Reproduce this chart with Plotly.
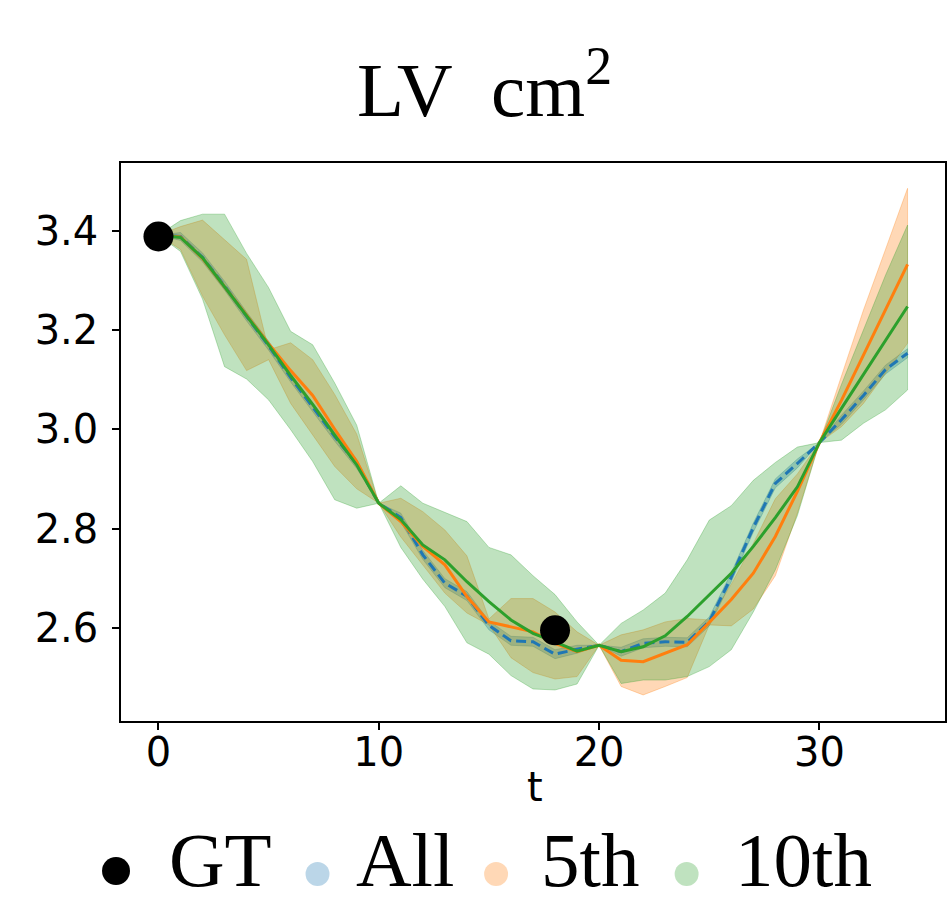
import plotly.graph_objects as go

# ---------------- data ----------------
t = list(range(35))

all_mean = [3.391, 3.388, 3.346, 3.289, 3.227, 3.168, 3.104, 3.045, 2.985, 2.930,
            2.851, 2.822, 2.747, 2.690, 2.664, 2.605, 2.574, 2.572, 2.547, 2.557,
            2.565, 2.552, 2.569, 2.572, 2.571, 2.613, 2.702, 2.802, 2.891, 2.931,
            2.973, 3.019, 3.068, 3.120, 3.153]
all_hi = [3.391, 3.396, 3.355, 3.298, 3.236, 3.177, 3.113, 3.054, 2.994, 2.939,
          2.851, 2.831, 2.756, 2.699, 2.673, 2.614, 2.583, 2.581, 2.556, 2.565,
          2.565, 2.561, 2.578, 2.581, 2.580, 2.622, 2.711, 2.811, 2.900, 2.940,
          2.973, 3.028, 3.077, 3.129, 3.162]
all_lo = [3.391, 3.380, 3.337, 3.280, 3.218, 3.159, 3.095, 3.036, 2.976, 2.921,
          2.851, 2.813, 2.738, 2.681, 2.655, 2.596, 2.565, 2.563, 2.538, 2.549,
          2.565, 2.543, 2.560, 2.563, 2.562, 2.604, 2.693, 2.793, 2.882, 2.922,
          2.973, 3.010, 3.059, 3.111, 3.144]

fifth_mean = [3.391, 3.387, 3.344, 3.287, 3.228, 3.172, 3.118, 3.068, 3.000, 2.935,
              2.851, 2.814, 2.764, 2.727, 2.663, 2.612, 2.602, 2.592, 2.569, 2.552,
              2.565, 2.535, 2.532, 2.549, 2.566, 2.611, 2.657, 2.710, 2.784, 2.875,
              2.973, 3.058, 3.150, 3.242, 3.332]
fifth_hi = [3.391, 3.408, 3.421, 3.381, 3.342, 3.160, 3.174, 3.140, 3.070, 2.990,
            2.851, 2.861, 2.834, 2.797, 2.745, 2.618, 2.659, 2.659, 2.632, 2.592,
            2.565, 2.586, 2.596, 2.612, 2.619, 2.616, 2.688, 2.770, 2.860, 2.910,
            2.973, 3.107, 3.240, 3.362, 3.485]
fifth_lo = [3.391, 3.362, 3.268, 3.190, 3.118, 3.140, 3.052, 2.988, 2.925, 2.880,
            2.851, 2.783, 2.727, 2.670, 2.630, 2.606, 2.540, 2.510, 2.497, 2.502,
            2.565, 2.482, 2.465, 2.482, 2.500, 2.606, 2.604, 2.638, 2.705, 2.831,
            2.973, 3.005, 3.052, 3.113, 3.173]

tenth_mean = [3.391, 3.386, 3.345, 3.287, 3.228, 3.170, 3.108, 3.050, 2.988, 2.928,
              2.851, 2.818, 2.767, 2.737, 2.693, 2.653, 2.616, 2.589, 2.572, 2.553,
              2.565, 2.552, 2.562, 2.584, 2.623, 2.666, 2.710, 2.764, 2.822, 2.884,
              2.973, 3.042, 3.110, 3.179, 3.247]
tenth_hi = [3.391, 3.420, 3.433, 3.433, 3.354, 3.285, 3.197, 3.170, 3.093, 3.008,
            2.851, 2.886, 2.851, 2.833, 2.814, 2.762, 2.747, 2.705, 2.667, 2.612,
            2.565, 2.609, 2.636, 2.670, 2.737, 2.817, 2.846, 2.897, 2.933, 2.964,
            2.973, 3.090, 3.200, 3.310, 3.411]
tenth_lo = [3.391, 3.358, 3.262, 3.126, 3.101, 3.059, 2.999, 2.935, 2.858, 2.841,
            2.851, 2.762, 2.698, 2.643, 2.570, 2.547, 2.504, 2.477, 2.475, 2.487,
            2.565, 2.488, 2.495, 2.495, 2.502, 2.522, 2.556, 2.632, 2.717, 2.826,
            2.973, 2.978, 3.012, 3.039, 3.079]

gt_t = [0, 18]
gt_v = [3.388, 2.595]

x_ticks = [0, 10, 20, 30]
y_ticks = [2.6, 2.8, 3.0, 3.2, 3.4]
legend_labels = ["GT", "All", "5th", "10th"]

# ---------------- style ----------------
W, H = 949, 898
L, R, T, B = 121, 2, 163, 177
PW, PH = W - L - R, H - T - B

BLUE = "#1f77b4"
ORANGE = "#ff7f0e"
GREEN = "#2ca02c"


def rgba(hexc, a):
    h = hexc.lstrip("#")
    r, g, b = int(h[0:2], 16), int(h[2:4], 16), int(h[4:6], 16)
    return f"rgba({r},{g},{b},{a})"


def px2x(px):
    return (px - L) / PW


def py2y(py):
    return (H - B - py) / PH


fig = go.Figure()

bands = [(all_hi, all_lo, BLUE), (fifth_hi, fifth_lo, ORANGE), (tenth_hi, tenth_lo, GREEN)]
for hi, lo, c in bands:
    fig.add_trace(go.Scatter(
        x=t + t[::-1], y=hi + lo[::-1], mode="lines", fill="toself",
        fillcolor=rgba(c, 0.3), line=dict(color=rgba(c, 0.3), width=1),
        hoverinfo="skip", showlegend=False))

fig.add_trace(go.Scatter(x=t, y=all_mean, mode="lines",
                         line=dict(color=BLUE, width=3, dash="10px,5px"), showlegend=False))
fig.add_trace(go.Scatter(x=t, y=fifth_mean, mode="lines",
                         line=dict(color=ORANGE, width=3), showlegend=False))
fig.add_trace(go.Scatter(x=t, y=tenth_mean, mode="lines",
                         line=dict(color=GREEN, width=3), showlegend=False))
fig.add_trace(go.Scatter(x=gt_t, y=gt_v, mode="markers",
                         marker=dict(color="black", size=30), showlegend=False))

axis_common = dict(
    showline=True, linecolor="black", linewidth=1.5, mirror=True,
    ticks="outside", ticklen=7, tickwidth=1.5, tickcolor="black",
    showgrid=False, zeroline=False,
    tickfont=dict(family="DejaVu Sans", size=40, color="black"),
)

fig.update_layout(
    width=W, height=H,
    margin=dict(l=L, r=R, t=T, b=B),
    paper_bgcolor="white", plot_bgcolor="white",
    xaxis=dict(range=[-1.7, 35.7], tickvals=x_ticks, ticklabelstandoff=-12, **axis_common),
    yaxis=dict(range=[2.4125, 3.536], tickvals=y_ticks, tickformat=".1f",
               ticklabelstandoff=6, **axis_common),
    showlegend=False,
)

ann = []
# title
ann.append(dict(text="LV\u00a0\u00a0cm<sup>2</sup>", x=px2x(485), y=py2y(85), xref="paper", yref="paper",
                xanchor="center", yanchor="middle", showarrow=False,
                font=dict(family="Liberation Serif", size=77, color="black")))
# x-axis label
ann.append(dict(text="t", x=px2x(536), y=py2y(787), xref="paper", yref="paper",
                xanchor="center", yanchor="middle", showarrow=False,
                font=dict(family="DejaVu Sans", size=40, color="black")))

# legend (manual)
leg_text_x = [221, 406, 591, 805]
leg_dot_x = [116, 318, 497, 688]
leg_dot_r = [14, 12, 12, 12]
leg_dot_y = [871, 874, 874, 874]
leg_cols = ["black", rgba(BLUE, 0.3), rgba(ORANGE, 0.3), rgba(GREEN, 0.3)]
shapes = []
for lab, tx, dx, r, dy, col in zip(legend_labels, leg_text_x, leg_dot_x, leg_dot_r, leg_dot_y, leg_cols):
    ann.append(dict(text=lab, x=px2x(tx), y=py2y(860), xref="paper", yref="paper",
                    xanchor="center", yanchor="middle", showarrow=False,
                    font=dict(family="Liberation Serif", size=77, color="black")))
    shapes.append(dict(type="circle", xref="paper", yref="paper",
                       x0=px2x(dx - r), x1=px2x(dx + r), y0=py2y(dy + r), y1=py2y(dy - r),
                       fillcolor=col, line=dict(width=0)))

fig.update_layout(annotations=ann, shapes=shapes)

fig.write_html("out.html",
               config={"displayModeBar": False},
               post_script="document.body.style.margin='0';document.body.style.padding='0';"
                           "document.body.style.overflow='hidden';")
